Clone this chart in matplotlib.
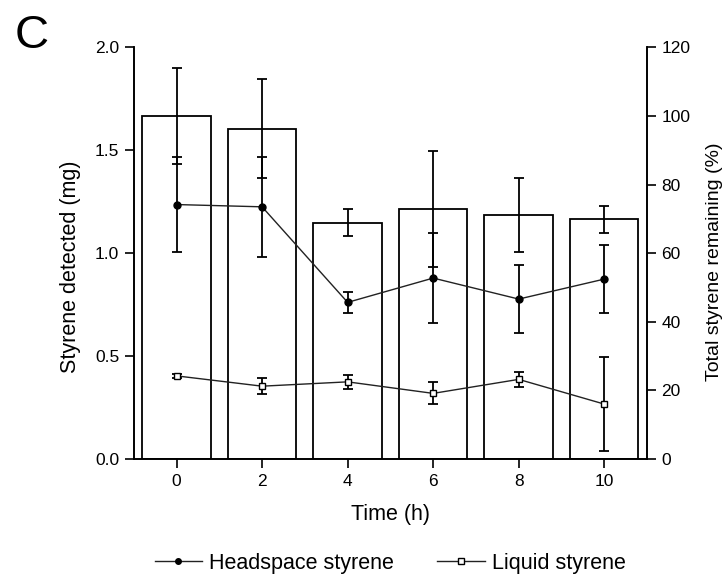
import matplotlib.pyplot as plt

plt.rcParams['font.family'] = ['Liberation Sans', 'DejaVu Sans']

time_h = [0, 2, 4, 6, 8, 10]

# total styrene remaining (%), bars on right axis
total_pct = [100.0, 96.3, 68.9, 72.9, 71.1, 69.9]
total_err = [14.0, 14.3, 3.9, 16.8, 10.8, 3.9]

# styrene detected (mg), lines on left axis
headspace = [1.236, 1.225, 0.761, 0.879, 0.777, 0.874]
headspace_err = [0.23, 0.243, 0.05, 0.22, 0.165, 0.165]
liquid = [0.404, 0.354, 0.375, 0.319, 0.387, 0.267]
liquid_err = [0.01, 0.04, 0.035, 0.053, 0.036, 0.23]

fig = plt.figure(figsize=(7.27, 5.76), dpi=100)
ax = fig.add_axes([0.184, 0.203, 0.706, 0.715])
ax2 = ax.twinx()

ax2.bar(time_h, total_pct, width=1.6, color='white', edgecolor='black', linewidth=1.3)
ax2.errorbar(time_h, total_pct, yerr=total_err, fmt='none', ecolor='black',
             elinewidth=1.3, capsize=3.5, capthick=1.3)

# keep the lines above the bars of the twin axis
ax.set_zorder(ax2.get_zorder() + 1)
ax.patch.set_visible(False)

ax.errorbar(time_h, headspace, yerr=headspace_err, color='#222222', linewidth=1.0,
            marker='o', markersize=5, markerfacecolor='black', markeredgecolor='black',
            ecolor='black', elinewidth=1.3, capsize=3.5, capthick=1.3,
            label='Headspace styrene')
ax.errorbar(time_h, liquid, yerr=liquid_err, color='#222222', linewidth=1.0,
            marker='s', markersize=5, markerfacecolor='white', markeredgecolor='black',
            ecolor='black', elinewidth=1.3, capsize=3.5, capthick=1.3,
            label='Liquid styrene')

ax.set_xlim(-1, 11)
ax.set_ylim(0, 2.0)
ax2.set_ylim(0, 120)
ax.set_xticks(time_h)
ax.set_yticks([0.0, 0.5, 1.0, 1.5, 2.0])
ax2.set_yticks(range(0, 121, 20))

for a in (ax, ax2):
    a.spines['top'].set_visible(False)
    for s in a.spines.values():
        s.set_linewidth(1.2)
    a.tick_params(direction='out', length=6.5, width=1.2, labelsize=12.5, pad=4)

ax.set_xlabel('Time (h)', fontsize=15.5, labelpad=11)
ax.set_ylabel('Styrene detected (mg)', fontsize=15.5, labelpad=10)
ax2.set_ylabel('Total styrene remaining (%)', fontsize=14, labelpad=11)
ax.yaxis.label.set_y(0.466)
ax2.yaxis.label.set_y(0.48)

fig.text(0.02, 0.916, 'C', fontsize=34)

handles, labels = ax.get_legend_handles_labels()
handles = [h[0] for h in handles]
fig.legend(handles, labels, loc='center', bbox_to_anchor=(0.537, 0.022), ncol=2,
           frameon=False, fontsize=15.5, handlelength=2.2, handletextpad=0.35,
           columnspacing=2.0, markerscale=0.8)

fig.savefig('out.png', dpi=100)
